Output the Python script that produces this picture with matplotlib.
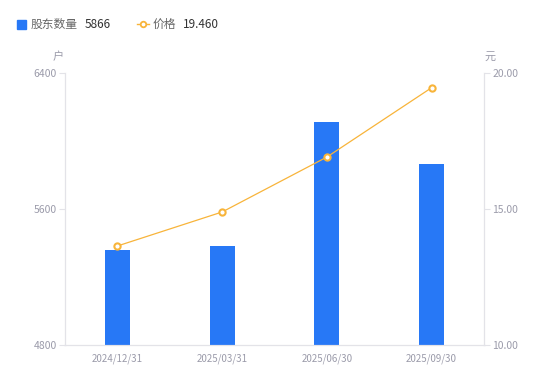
import matplotlib.pyplot as plt
from matplotlib.lines import Line2D

plt.rcParams['font.family'] = ['Noto Sans CJK SC', 'DejaVu Sans']

# data
dates = ['2024/12/31', '2025/03/31', '2025/06/30', '2025/09/30']
holders = [5357, 5380, 6112, 5866]
price = [13.64, 14.89, 16.91, 19.46]

bar_color = '#2778F6'
line_color = '#F8B43A'
tick_color = '#9B9BAA'
axis_color = '#E3E3E8'

fig = plt.figure(figsize=(5.5, 3.81), dpi=100)
ax = fig.add_axes([65 / 550, 1 - 345 / 381, (484 - 65) / 550, (345 - 73) / 381])
ax2 = ax.twinx()

x = range(len(dates))
ax.bar(x, holders, width=0.24, color=bar_color, zorder=2)
ax2.plot(x, price, color=line_color, lw=0.9, marker='o', ms=4.5,
         mfc='white', mec=line_color, mew=1.5, zorder=3)

ax.set_xlim(-0.5, 3.5)
ax.set_ylim(4800, 6400)
ax.set_yticks([4800, 5600, 6400])
ax2.set_ylim(10, 20)
ax2.set_yticks([10, 15, 20])
ax2.set_yticklabels(['10.00', '15.00', '20.00'])
ax.set_xticks(list(x))
ax.set_xticklabels(dates)

for a in (ax, ax2):
    a.spines['top'].set_visible(False)
    a.spines['left'].set_color(axis_color)
    a.spines['right'].set_color(axis_color)
    a.spines['bottom'].set_color(axis_color)
    a.tick_params(axis='y', colors=axis_color, labelcolor=tick_color,
                  labelsize=7.5, length=4, width=0.8, pad=2)
ax.tick_params(axis='x', length=0, labelcolor=tick_color, labelsize=7, pad=6)

# units
fig.text(58 / 550, 1 - 57 / 381, '户', color=tick_color, fontsize=8,
         ha='center', va='center')
fig.text(490 / 550, 1 - 57 / 381, '元', color=tick_color, fontsize=8,
         ha='center', va='center')

# legend drawn by hand
ly = 1 - 24 / 381
fig.patches.append(plt.Rectangle((17 / 550, ly - 4.5 / 381), 9 / 550, 9 / 381,
                                 transform=fig.transFigure, color=bar_color))
fig.text(31 / 550, ly, '股东数量', color='#666666', fontsize=8.5, va='center')
fig.text(85 / 550, ly, '5866', color='#333333', fontsize=8.5, va='center')
fig.lines.append(Line2D([137 / 550, 149 / 550], [ly, ly], transform=fig.transFigure,
                        color=line_color, lw=1))
fig.lines.append(Line2D([143 / 550], [ly], transform=fig.transFigure, lw=0,
                        marker='o', ms=4, mfc='white', mec=line_color, mew=1.3))
fig.text(153 / 550, ly, '价格', color='#666666', fontsize=8.5, va='center')
fig.text(183 / 550, ly, '19.460', color='#333333', fontsize=8.5, va='center')

fig.savefig('out.png', dpi=100)
